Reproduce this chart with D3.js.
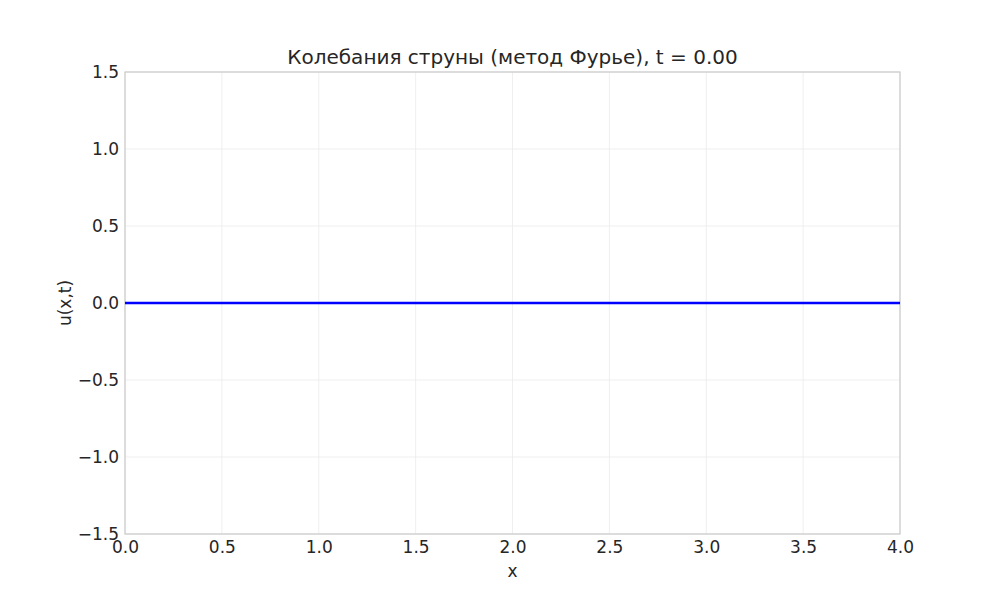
<!DOCTYPE html>
<html>
<head>
<meta charset="utf-8">
<script src="https://cdn.jsdelivr.net/npm/d3@7"></script>
<style>
  body { margin: 0; background: #fff; }
  text { font-family: "DejaVu Sans", sans-serif; fill: #262626; }
</style>
</head>
<body>
<div id="chart"></div>
<script>
// данные: струна в момент t = 0
const xValues = [0.0, 0.5, 1.0, 1.5, 2.0, 2.5, 3.0, 3.5, 4.0];
const uValues = [0, 0, 0, 0, 0, 0, 0, 0, 0];
const xTicks = [0.0, 0.5, 1.0, 1.5, 2.0, 2.5, 3.0, 3.5, 4.0];
const yTicks = [-1.5, -1.0, -0.5, 0.0, 0.5, 1.0, 1.5];
const titleText = "Колебания струны (метод Фурье), t = 0.00";

const W = 1000, H = 600;
const m = { top: 72, right: 100, bottom: 66, left: 125 };

const svg = d3.select("#chart").append("svg")
  .attr("width", W).attr("height", H);

const x = d3.scaleLinear().domain([0, 4]).range([m.left, W - m.right]);
const y = d3.scaleLinear().domain([-1.5, 1.5]).range([H - m.bottom, m.top]);

const fmt = d => d3.format(".1f")(d).replace("-", "\u2212");

// сетка
svg.append("g").selectAll("line").data(xTicks).join("line")
  .attr("x1", d => x(d)).attr("x2", d => x(d))
  .attr("y1", m.top).attr("y2", H - m.bottom)
  .attr("stroke", "#ebebeb").attr("stroke-width", 0.8);
svg.append("g").selectAll("line").data(yTicks).join("line")
  .attr("x1", m.left).attr("x2", W - m.right)
  .attr("y1", d => y(d)).attr("y2", d => y(d))
  .attr("stroke", "#ebebeb").attr("stroke-width", 0.8);

// рамка
svg.append("rect")
  .attr("x", m.left).attr("y", m.top)
  .attr("width", W - m.left - m.right).attr("height", H - m.top - m.bottom)
  .attr("fill", "none").attr("stroke", "#cccccc").attr("stroke-width", 1.25);

// оси
const xAxis = svg.append("g")
  .attr("transform", `translate(0,${H - m.bottom})`)
  .call(d3.axisBottom(x).tickValues(xTicks).tickFormat(fmt).tickSize(0).tickPadding(7));
const yAxis = svg.append("g")
  .attr("transform", `translate(${m.left},0)`)
  .call(d3.axisLeft(y).tickValues(yTicks).tickFormat(fmt).tickSize(0).tickPadding(6));
[xAxis, yAxis].forEach(a => {
  a.select(".domain").remove();
  a.selectAll("text").style("font-size", "17px").style("font-family", "DejaVu Sans").attr("fill", "#262626");
});

// линия
const line = d3.line().x((d, i) => x(xValues[i])).y(d => y(d));
svg.append("path").datum(uValues)
  .attr("d", line)
  .attr("fill", "none").attr("stroke", "#0000ff").attr("stroke-width", 2.6);

// подписи
svg.append("text")
  .attr("x", (m.left + W - m.right) / 2).attr("y", 64)
  .attr("text-anchor", "middle").style("font-size", "20px")
  .text(titleText);
svg.append("text")
  .attr("x", (m.left + W - m.right) / 2).attr("y", 577)
  .attr("text-anchor", "middle").style("font-size", "17px")
  .text("x");
svg.append("text")
  .attr("transform", `translate(71,${(m.top + H - m.bottom) / 2}) rotate(-90)`)
  .attr("text-anchor", "middle").style("font-size", "17px")
  .text("u(x,t)");
</script>
</body>
</html>
